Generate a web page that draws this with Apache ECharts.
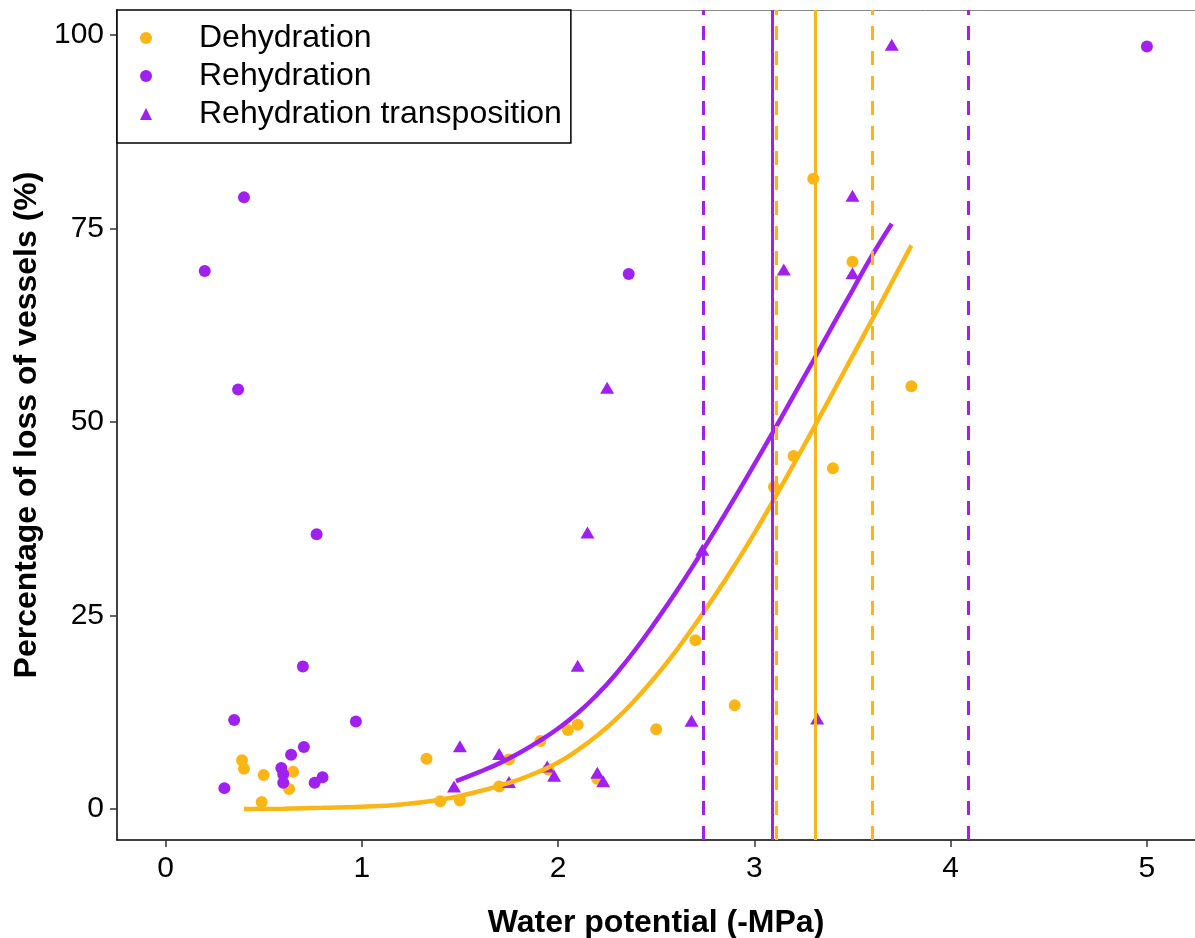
<!DOCTYPE html>
<html>
<head>
<meta charset="utf-8">
<script src="https://cdn.jsdelivr.net/npm/echarts@6/dist/echarts.min.js"></script>
<style>
  html, body { margin: 0; padding: 0; background: #fff; }
  #chart { width: 1195px; height: 938px; }
</style>
</head>
<body>
<div id="chart"></div>
<script>
// points [water potential, % loss]
var dehydration = [
  [0.39, 6.3], [0.40, 5.2], [0.50, 4.4], [0.49, 0.9], [0.65, 4.8], [0.63, 2.6],
  [1.33, 6.5], [1.40, 1.0], [1.50, 1.1], [1.70, 2.9], [1.75, 6.4], [1.91, 8.8],
  [1.95, 5.1], [2.05, 10.2], [2.10, 10.9], [2.20, 3.9], [2.50, 10.3], [2.70, 21.8],
  [2.90, 13.4], [3.10, 41.6], [3.20, 45.6], [3.30, 81.4], [3.40, 44.0], [3.50, 70.7],
  [3.80, 54.6]
];
var rehydration = [
  [0.20, 69.5], [0.40, 79.0], [0.37, 54.2], [0.77, 35.5], [0.70, 18.4], [0.35, 11.5],
  [0.97, 11.3], [0.705, 8.0], [0.64, 7.0], [0.59, 5.3], [0.60, 4.5], [0.60, 3.4],
  [0.80, 4.1], [0.76, 3.4], [0.30, 2.7], [2.36, 69.1], [5.00, 98.5]
];
var transposition = [
  [1.47, 2.9], [1.50, 8.1], [1.70, 7.1], [1.75, 3.5], [1.945, 5.5], [1.98, 4.3],
  [2.10, 18.5], [2.15, 35.7], [2.20, 4.7], [2.23, 3.6], [2.25, 54.4], [2.68, 11.4],
  [2.735, 33.5], [3.15, 69.7], [3.32, 11.7], [3.50, 79.2], [3.50, 69.2], [3.70, 98.7]
];

// fitted curves
var dehydFit = [
  [0.40, 0.0], [0.60, 0.05], [0.80, 0.15], [1.00, 0.3], [1.20, 0.6], [1.40, 1.2],
  [1.50, 1.7], [1.60, 2.3], [1.70, 3.0], [1.80, 3.8], [1.90, 4.8], [2.00, 6.0],
  [2.10, 7.6], [2.20, 9.5], [2.30, 11.7], [2.40, 14.3], [2.50, 17.2], [2.60, 20.4],
  [2.70, 23.9], [2.80, 27.6], [2.90, 31.5], [3.00, 35.6], [3.10, 40.0], [3.20, 44.5],
  [3.30, 49.1], [3.40, 53.8], [3.50, 58.5], [3.60, 63.2], [3.70, 68.0], [3.80, 72.8]
];
var rehydFit = [
  [1.48, 3.6], [1.60, 4.8], [1.70, 5.9], [1.80, 7.2], [1.90, 8.7], [2.00, 10.4],
  [2.10, 12.4], [2.20, 14.8], [2.30, 17.6], [2.40, 20.8], [2.50, 24.3], [2.60, 28.0],
  [2.70, 31.9], [2.80, 36.0], [2.90, 40.2], [3.00, 44.5], [3.10, 48.9], [3.20, 53.4],
  [3.30, 57.9], [3.40, 62.5], [3.50, 67.0], [3.60, 71.5], [3.70, 75.6]
];

// P50 and its interval
var dehydP50 = 3.31, dehydCI = [3.11, 3.603];
var rehydP50 = 3.09, rehydCI = [2.744, 4.087];

var xTicks = [0, 1, 2, 3, 4, 5];
var yTicks = [0, 25, 50, 75, 100];

var ORANGE = '#FBB615';
var PURPLE = '#A020F0';
var FONT = '"Liberation Sans", Arial, sans-serif';

function vlines(p50, ci, color) {
  return {
    silent: true,
    symbol: 'none',
    label: { show: false },
    emphasis: { disabled: true },
    data: [
      { xAxis: p50, lineStyle: { color: color, width: 3, type: 'solid' } },
      { xAxis: ci[0], lineStyle: { color: color, width: 3, type: [14, 11] } },
      { xAxis: ci[1], lineStyle: { color: color, width: 3, type: [14, 11] } }
    ]
  };
}

var chart = echarts.init(document.getElementById('chart'));
chart.setOption({
  backgroundColor: '#fff',
  animation: false,
  textStyle: { fontFamily: FONT },
  grid: { left: 117, right: 0, top: 10, bottom: 98, containLabel: false, outerBoundsMode: 'none' },
  legend: {
    data: [
      { name: 'Dehydration', icon: 'circle' },
      { name: 'Rehydration', icon: 'circle' },
      { name: 'Rehydration transposition', icon: 'triangle' }
    ],
    orient: 'vertical',
    left: 117,
    top: 10,
    padding: [9, 9, 10, 23],
    itemGap: 0,
    itemWidth: 12,
    itemHeight: 12,
    backgroundColor: '#fff',
    borderColor: '#000',
    borderWidth: 1.5,
    borderRadius: 0,
    textStyle: { fontSize: 32, lineHeight: 38, color: '#000', fontFamily: FONT, padding: [0, 0, 0, 42] }
  },
  xAxis: [{
    type: 'value',
    min: -0.247,
    max: 5.245,
    name: 'Water potential (-MPa)',
    nameLocation: 'middle',
    nameGap: 67,
    nameTextStyle: { fontSize: 32, fontWeight: 'bold', color: '#000', fontFamily: FONT },
    splitLine: { show: false },
    axisLine: { onZero: false, lineStyle: { color: '#000', width: 1.5 } },
    axisTick: { customValues: xTicks, length: 7, lineStyle: { color: '#333', width: 1.5 } },
    axisLabel: { customValues: xTicks, fontSize: 30, color: '#000', margin: 14 }
  }, {
    type: 'value',
    position: 'top',
    min: -0.247,
    max: 5.245,
    splitLine: { show: false },
    axisLine: { show: true, onZero: false, lineStyle: { color: '#888', width: 1 } },
    axisTick: { show: false },
    axisLabel: { show: false }
  }],
  yAxis: {
    type: 'value',
    min: -4.0,
    max: 103.2,
    name: 'Percentage of loss of vessels (%)',
    nameLocation: 'middle',
    nameGap: 67,
    nameTextStyle: { fontSize: 32, fontWeight: 'bold', color: '#000', fontFamily: FONT },
    splitLine: { show: false },
    axisLine: { show: true, onZero: false, lineStyle: { color: '#000', width: 1.5 } },
    axisTick: { show: true, customValues: yTicks, length: 7, lineStyle: { color: '#333', width: 1.5 } },
    axisLabel: { customValues: yTicks, fontSize: 30, color: '#000', margin: 13 }
  },
  series: [
    {
      name: 'Dehydration', type: 'scatter', data: dehydration,
      symbol: 'circle', symbolSize: 12, itemStyle: { color: ORANGE, opacity: 1 }, z: 2
    },
    {
      name: 'Rehydration', type: 'scatter', data: rehydration,
      symbol: 'circle', symbolSize: 12, itemStyle: { color: PURPLE, opacity: 1 }, z: 2
    },
    {
      name: 'Rehydration transposition', type: 'scatter', data: transposition,
      symbol: 'triangle', symbolSize: [14, 12], itemStyle: { color: PURPLE, opacity: 1 }, z: 2
    },
    {
      name: 'dehydFit', type: 'line', data: dehydFit, smooth: true, showSymbol: false,
      lineStyle: { color: ORANGE, width: 4.5 }, itemStyle: { color: ORANGE }, z: 3,
      markLine: vlines(dehydP50, dehydCI, ORANGE)
    },
    {
      name: 'rehydFit', type: 'line', data: rehydFit, smooth: true, showSymbol: false,
      lineStyle: { color: PURPLE, width: 4.5 }, itemStyle: { color: PURPLE }, z: 3,
      markLine: vlines(rehydP50, rehydCI, PURPLE)
    }
  ]
});
</script>
</body>
</html>
